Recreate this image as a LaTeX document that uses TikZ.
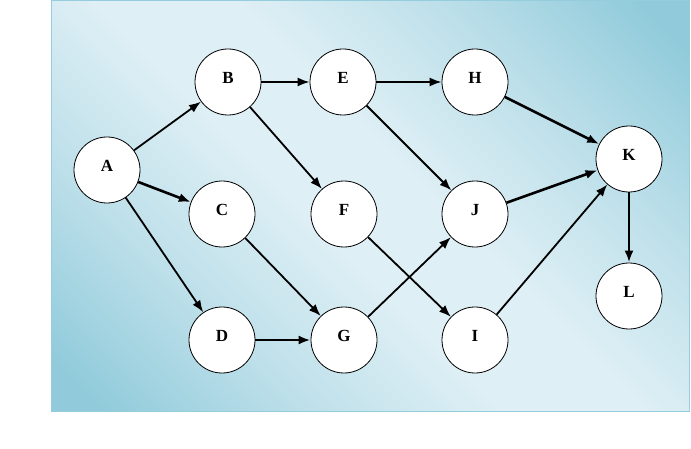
\documentclass[tikz,border=0pt]{standalone}
\usepackage{fontspec}
\setmainfont{Liberation Serif}
\usetikzlibrary{arrows.meta}
\definecolor{bgdark}{RGB}{145,203,219}
\definecolor{bgmid}{RGB}{190,224,234}
\definecolor{bglight}{RGB}{222,239,245}
\definecolor{bgborder}{RGB}{150,205,220}
\pgfdeclarehorizontalshading{bgshade}{100bp}{color(0bp)=(bgdark); color(18bp)=(bgdark); color(32bp)=(bgmid); color(45bp)=(bglight); color(55bp)=(bglight); color(68bp)=(bgmid); color(82bp)=(bgdark); color(100bp)=(bgdark)}
\tikzset{
  event/.style={circle, draw, line width=0.8pt, fill=white, minimum size=66pt,
    inner sep=0pt, font=\fontsize{17}{17}\selectfont\bfseries},
  act/.style={line width=1.8pt, -{Latex[length=12pt,width=9pt]}},
  bigact/.style={act, line width=2.6pt}
}
\begin{document}
\begin{tikzpicture}[x=1pt,y=-1pt]
\useasboundingbox (0,0) rectangle (691,449);
\shade[shading=bgshade, shading angle=45, draw=bgborder, line width=1pt] (51,1) rectangle (689,411);

\node[event] (A) at (107,170) {\raisebox{8pt}{A}};
\node[event] (B) at (228,82) {\raisebox{8pt}{B}};
\node[event] (C) at (222,214) {\raisebox{8pt}{C}};
\node[event] (D) at (222,340) {\raisebox{8pt}{D}};
\node[event] (E) at (343,82) {\raisebox{8pt}{E}};
\node[event] (F) at (344,214) {\raisebox{8pt}{F}};
\node[event] (G) at (344,340) {\raisebox{8pt}{G}};
\node[event] (H) at (475,82) {\raisebox{8pt}{H}};
\node[event] (J) at (475,214) {\raisebox{8pt}{J}};
\node[event] (I) at (475,340) {\raisebox{8pt}{I}};
\node[event] (K) at (629,159) {\raisebox{8pt}{K}};
\node[event] (L) at (629,296) {\raisebox{8pt}{L}};

\draw[act] (A) -- (B);
\draw[bigact] (A) -- (C);
\draw[act] (A) -- (D);
\draw[act] (B) -- (E);
\draw[act] (B) -- (F);
\draw[act] (C) -- (G);
\draw[bigact] (D) -- (G);
\draw[act] (E) -- (H);
\draw[act] (E) -- (J);
\draw[act] (F) -- (I);
\draw[act] (G) -- (J);
\draw[bigact] (H) -- (K);
\draw[bigact] (J) -- (K);
\draw[act] (I) -- (K);
\draw[bigact] (K) -- (L);
\end{tikzpicture}
\end{document}
